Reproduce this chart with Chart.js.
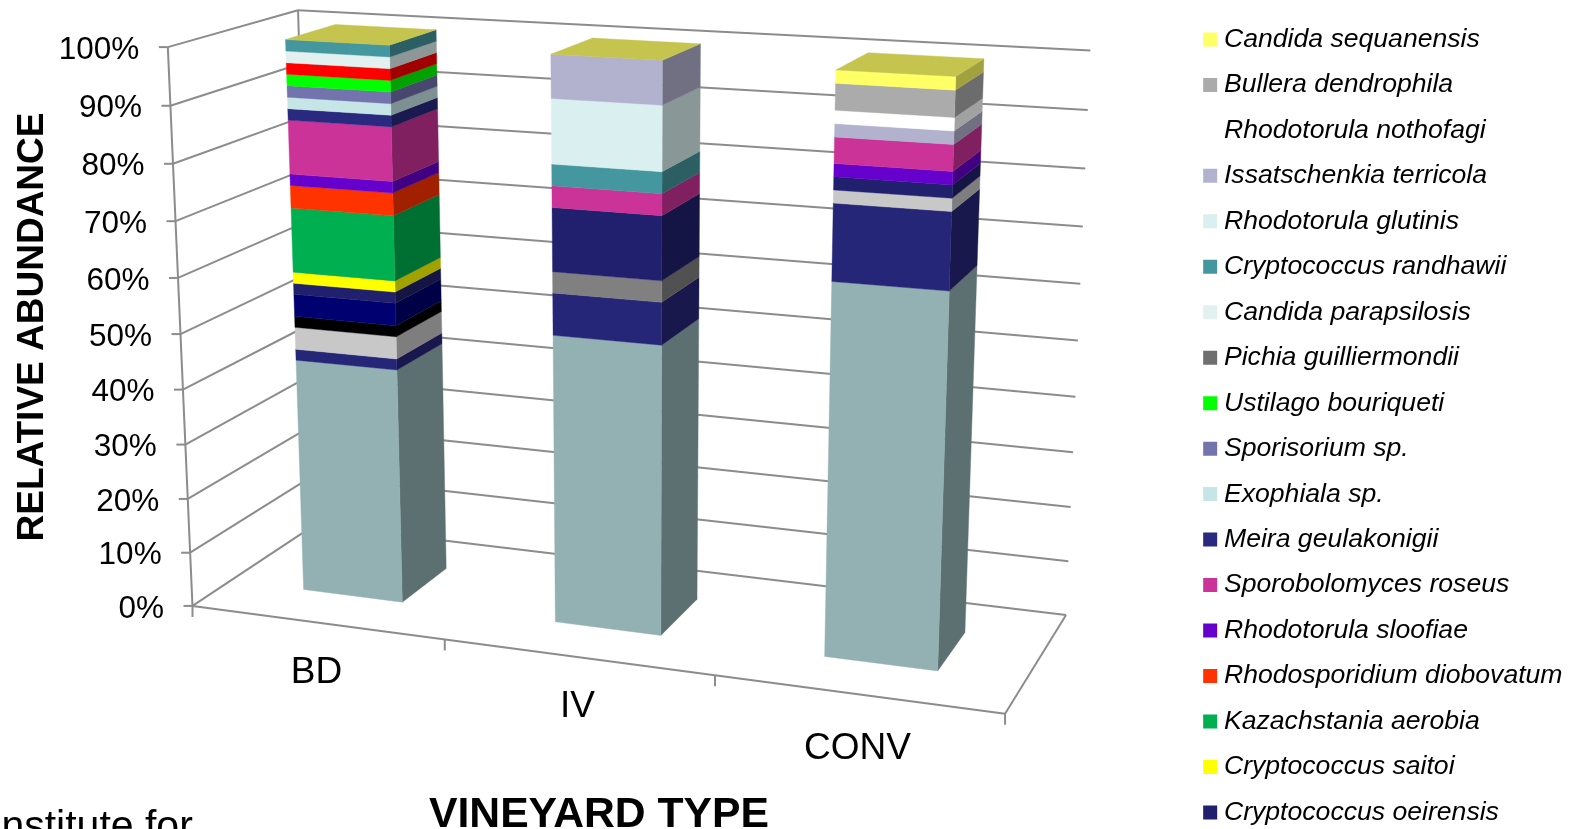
<!DOCTYPE html>
<html lang="en">
<head>
    <meta charset="UTF-8">
    <title>Relative abundance by vineyard type</title>
    <script src="https://cdn.jsdelivr.net/npm/chart.js@4"></script>
    <style>
        html, body {
            margin: 0;
            height: 829px;
            overflow: hidden;
            background: #fff;
        }
        canvas { display: block; }
    </style>
</head>
<body>
    <canvas id="miCanvas" width="1620" height="880"></canvas>
    <script>
    const categories = ["BD", "IV", "CONV"];

    // stacked bottom to top, an empty name keeps the series out of the legend
    const seriesNames = ["", "", "", "", "", "",
        "Cryptococcus oeirensis", "Cryptococcus saitoi", "Kazachstania aerobia",
        "Rhodosporidium diobovatum", "Rhodotorula sloofiae", "Sporobolomyces roseus",
        "Meira geulakonigii", "Exophiala sp.", "Sporisorium sp.", "Ustilago bouriqueti",
        "Pichia guilliermondii", "", "Candida parapsilosis", "Cryptococcus randhawii",
        "Rhodotorula glutinis", "Issatschenkia terricola", "Rhodotorula nothofagi",
        "Bullera dendrophila", "Candida sequanensis"];
    const seriesColors = ["#93B1B3", "#262679", "#808080", "#C8C8C8", "#000000", "#000070",
        "#20206E", "#FFFF00", "#00B050",
        "#FF3300", "#6600CC", "#CC3399",
        "#292980", "#C6E5E7", "#7373AE", "#00FF00",
        "#6F6F6F", "#FF0000", "#E2F0F0", "#45979F",
        "#DAEFEF", "#B2B2CF", "#FFFFFF",
        "#ABABAB", "#FFFF66"];

    const bdValues = [43, 2, 0, 4, 2, 4,
        2, 2, 11.5,
        4, 2, 9.5,
        2, 2, 2, 2,
        0, 2, 2, 2,
        0, 0, 0,
        0, 0];
    const ivValues = [51.85, 7.41, 3.7, 0, 0, 0,
        11.11, 0, 0,
        0, 0, 3.7,
        0, 0, 0, 0,
        0, 0, 0, 3.7,
        11.11, 7.41, 0,
        0, 0];
    const convValues = [65.22, 13.04, 0, 2.17, 0, 0,
        2.17, 0, 0,
        0, 2.17, 4.35,
        0, 0, 0, 0,
        0, 0, 0, 0,
        0, 2.17, 2.17,
        4.35, 2.17];

    const valueStep = 10;
    const valueMax = 100;

    // perspective of the plot box: u along the categories, v up the values, w into the depth
    const projX = [712.63416, -33.51875, 149.85936, 192.48693];
    const projY = [36.828, -561.3045, -34.03517, 605.91659];
    const projD = [-0.09943, -0.05282, 0.08906, 1];
    const barFront = 0.3;
    const barBack = 0.7;
    const lineColor = "#8C8C8C";
    const labelDrop = [50.5, 49.5, 54.5];

    const project = (u, v, w) => {
        const d = projD[0] * u + projD[1] * v + projD[2] * w + projD[3];
        return [
            (projX[0] * u + projX[1] * v + projX[2] * w + projX[3]) / d,
            (projY[0] * u + projY[1] * v + projY[2] * w + projY[3]) / d
        ];
    };

    const shade = (hex, k) => {
        const n = parseInt(hex.slice(1), 16);
        const c = [n >> 16, (n >> 8) & 255, n & 255].map(x => Math.round(x * k));
        return `rgb(${c[0]},${c[1]},${c[2]})`;
    };

    const polygon = (ctx, pts, color) => {
        ctx.beginPath();
        pts.forEach((p, i) => i ? ctx.lineTo(p[0], p[1]) : ctx.moveTo(p[0], p[1]));
        ctx.closePath();
        ctx.fillStyle = color;
        ctx.strokeStyle = color;
        ctx.lineWidth = 0.4;
        ctx.fill();
        ctx.stroke();
    };

    const segment = (ctx, a, b) => {
        ctx.beginPath();
        ctx.moveTo(a[0], a[1]);
        ctx.lineTo(b[0], b[1]);
        ctx.stroke();
    };

    const box3d = {
        id: "box3d",
        // walls, floor, grid and both sets of tick labels
        beforeDatasetsDraw(chart) {
            const ctx = chart.ctx;
            const yScale = chart.scales.y;
            const xScale = chart.scales.x;
            ctx.save();
            ctx.strokeStyle = lineColor;
            ctx.lineWidth = 2;

            segment(ctx, project(0, 0, 0), project(0, 1, 0));
            segment(ctx, project(0, 0, 1), project(0, 1, 1));
            segment(ctx, project(0, 0, 0), project(1, 0, 0));
            segment(ctx, project(1, 0, 0), project(1, 0, 1));

            ctx.font = "31.5px 'Liberation Sans'";
            ctx.textAlign = "right";
            ctx.textBaseline = "middle";
            yScale.ticks.forEach(tick => {
                const v = (yScale.bottom - yScale.getPixelForValue(tick.value)) / yScale.height;
                const left = project(0, v, 0);
                const corner = project(0, v, 1);
                segment(ctx, left, corner);
                segment(ctx, corner, project(1, v, 1));
                segment(ctx, [left[0] - 9, left[1]], left);
                ctx.fillStyle = "#000";
                ctx.fillText(tick.label, left[0] - 28.5, left[1] + 3);
            });

            ctx.textAlign = "center";
            ctx.font = "37px 'Liberation Sans'";
            categories.forEach((name, i) => {
                const edge = project(i / categories.length, 0, 0);
                segment(ctx, edge, [edge[0], edge[1] + 11]);
                const u = (xScale.getPixelForValue(i) - xScale.left) / xScale.width;
                const at = project(u, 0, 0);
                ctx.fillStyle = "#000";
                ctx.fillText(xScale.ticks[i].label, at[0], at[1] + labelDrop[i]);
            });
            const end = project(1, 0, 0);
            segment(ctx, end, [end[0], end[1] + 11]);
            ctx.restore();
        },
        // the flat bars are replaced by the boxes below
        beforeDatasetDraw() {
            return false;
        },
        afterDatasetsDraw(chart) {
            const ctx = chart.ctx;
            const yScale = chart.scales.y;
            const xScale = chart.scales.x;
            const toU = px => (px - xScale.left) / xScale.width;
            const toV = px => (yScale.bottom - px) / yScale.height;
            const last = chart.data.datasets.length - 1;
            ctx.save();
            chart.data.datasets.forEach((ds, s) => {
                chart.getDatasetMeta(s).data.forEach(bar => {
                    const u0 = toU(bar.x - bar.width / 2);
                    const u1 = toU(bar.x + bar.width / 2);
                    const v0 = toV(bar.base);
                    const v1 = toV(bar.y);
                    if (v1 - v0 > 0.0001) {
                        polygon(ctx, [project(u1, v0, barFront), project(u1, v0, barBack),
                            project(u1, v1, barBack), project(u1, v1, barFront)], shade(ds.backgroundColor, 0.63));
                        polygon(ctx, [project(u0, v0, barFront), project(u1, v0, barFront),
                            project(u1, v1, barFront), project(u0, v1, barFront)], ds.backgroundColor);
                    }
                    if (s === last) {
                        polygon(ctx, [project(u0, v1, barFront), project(u1, v1, barFront),
                            project(u1, v1, barBack), project(u0, v1, barBack)], shade(ds.backgroundColor, 0.77));
                    }
                });
            });
            ctx.restore();
        },
        afterDraw(chart) {
            const ctx = chart.ctx;
            ctx.save();
            ctx.fillStyle = "#000";
            ctx.textAlign = "center";
            ctx.textBaseline = "alphabetic";
            ctx.font = "bold 42.7px 'Liberation Sans'";
            ctx.fillText("VINEYARD TYPE", 599, 827);

            ctx.save();
            ctx.filter = "blur(0.7px)";
            ctx.font = "41px 'Liberation Sans'";
            ctx.textAlign = "left";
            ctx.fillText("Institute for", -10, 839);
            ctx.restore();

            ctx.translate(43, 327);
            ctx.rotate(-Math.PI / 2);
            ctx.textAlign = "center";
            ctx.font = "bold 37px 'Liberation Sans'";
            ctx.fillText("RELATIVE ABUNDANCE", 0, 0);
            ctx.restore();
        }
    };

    const datasets = seriesNames.map((name, i) => ({
        label: name,
        data: [bdValues[i], ivValues[i], convValues[i]],
        backgroundColor: seriesColors[i],
        barPercentage: 0.4,
        categoryPercentage: 1
    }));

    new Chart(document.getElementById("miCanvas").getContext("2d"), {
        type: "bar",
        data: { labels: categories, datasets: datasets },
        plugins: [box3d],
        options: {
            responsive: false,
            animation: false,
            events: [],
            layout: { padding: { top: 7.25, right: 47.5 } },
            scales: {
                x: { stacked: true, display: false },
                y: {
                    stacked: true,
                    display: false,
                    min: 0,
                    max: valueMax,
                    ticks: { stepSize: valueStep, callback: v => v + "%" }
                }
            },
            plugins: {
                tooltip: { enabled: false },
                legend: {
                    position: "right",
                    align: "start",
                    reverse: true,
                    labels: {
                        filter: item => item.text !== "",
                        usePointStyle: true,
                        pointStyle: "rect",
                        boxWidth: 1,
                        boxHeight: 14,
                        padding: 18.87,
                        color: "#000",
                        font: { family: "'Liberation Sans'", size: 26.6, style: "italic" }
                    }
                }
            }
        }
    });
    </script>
</body>
</html>
